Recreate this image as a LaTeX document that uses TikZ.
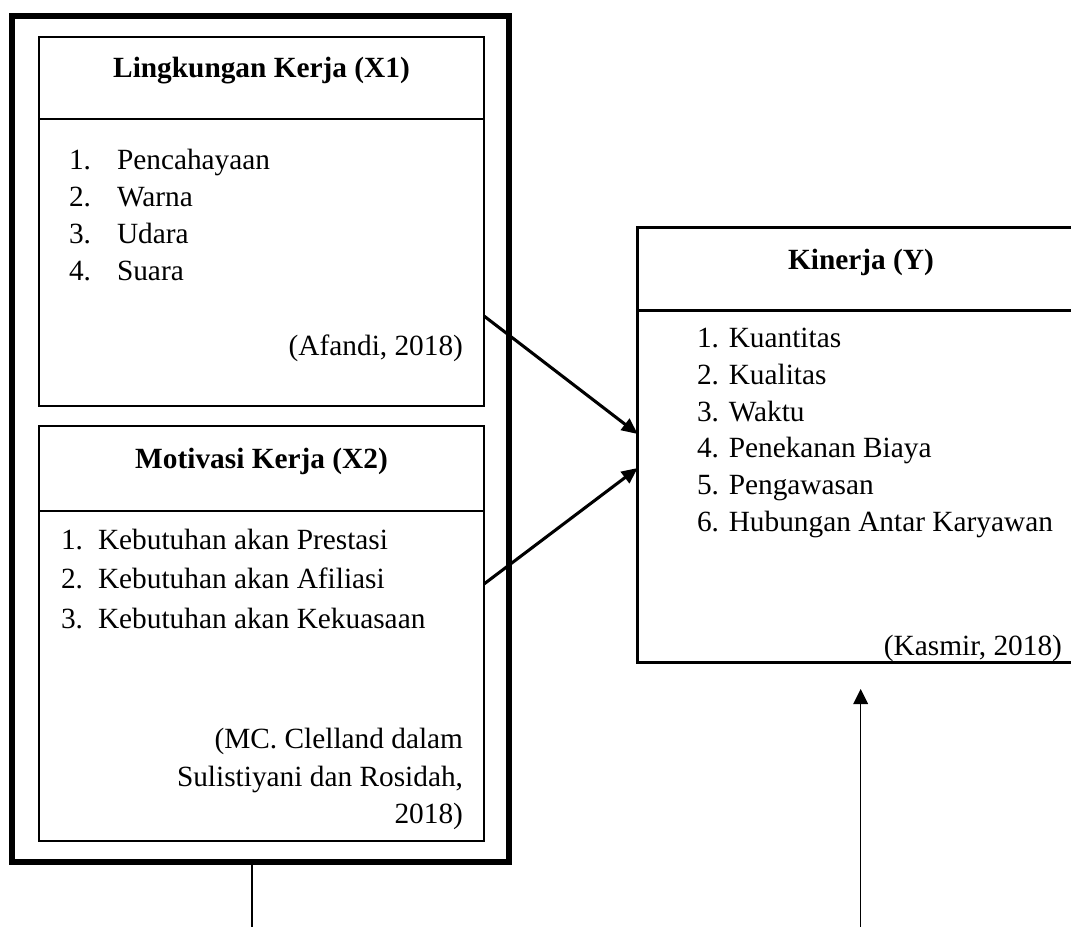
\documentclass[tikz,border=0pt]{standalone}
\usepackage{fontspec}
\setmainfont{Liberation Serif}
\usetikzlibrary{arrows.meta,calc}
\begin{document}
\begin{tikzpicture}[x=0.75pt,y=-0.75pt,
  box/.style={draw, line width=1.9pt, inner sep=0pt, outer sep=0pt, anchor=north west},
  txt/.style={inner sep=0pt, outer sep=0pt, font=\fontsize{22}{26}\selectfont},
  ttl/.style={inner sep=0pt, outer sep=0pt, font=\fontsize{22}{26}\selectfont\bfseries, anchor=base},
  arr/.style={line width=2.3pt, -{Triangle[length=12pt,width=10.5pt]}},
  thinarr/.style={line width=1pt, -{Triangle[length=11.25pt,width=11pt]}},
  thinline/.style={line width=1pt}]
\useasboundingbox (0,0) rectangle (1071,927);
% outer frame
\node[box, line width=4.3pt, minimum width=372.75pt, minimum height=634.5pt] (outer) at (12,16) {};
% X1
\node[box, minimum width=333.75pt, minimum height=61.5pt] (x1h) at (39,37) {};
\node[box, minimum width=333.75pt, minimum height=215.25pt] (x1b) at (x1h.south west) {};
% X2
\node[box, minimum width=333.75pt, minimum height=63.75pt] (x2h) at (39,426) {};
\node[box, minimum width=333.75pt, minimum height=247.5pt] (x2b) at (x2h.south west) {};
% Y
\node[box, minimum width=334.5pt, minimum height=62.25pt] (kh) at (637.7,227.5) {};
\node[box, minimum width=334.5pt, minimum height=264pt] (kb) at (kh.south west) {};
% titles
\node[ttl] (x1title) at (261.5,78) {Lingkungan Kerja (X1)};
\node[ttl] (x2title) at (261.5,468) {Motivasi Kerja (X2)};
\node[ttl] (ktitle) at (861,270) {Kinerja (Y)};
% X1 items
\foreach \t [count=\i] in {Pencahayaan, Warna, Udara, Suara} {
  \pgfmathsetmacro\yy{170+36.67*(\i-1)}
  \node[txt, anchor=base west] (x1n\i) at (69,\yy) {\i.};
  \node[txt, anchor=base west] (x1t\i) at (117,\yy) {\t};
}
\node[txt, anchor=base east] (x1src) at (463,355) {(Afandi, 2018)};
% X2 items
\foreach \t [count=\i] in {Kebutuhan akan Prestasi, Kebutuhan akan Afiliasi, Kebutuhan akan Kekuasaan} {
  \pgfmathsetmacro\yy{549+39.5*(\i-1)}
  \node[txt, anchor=base west] (x2n\i) at (61,\yy) {\i.};
  \node[txt, anchor=base west] (x2t\i) at (98,\yy) {\t};
}
\node[txt, anchor=base east] (x2src1) at (463,748.5) {(MC. Clelland dalam};
\node[txt, anchor=base east] (x2src2) at (463,786) {Sulistiyani dan Rosidah,};
\node[txt, anchor=base east] (x2src3) at (463,823) {2018)};
% Y items
\foreach \t [count=\i] in {Kuantitas, Kualitas, Waktu, Penekanan Biaya, Pengawasan, Hubungan Antar Karyawan} {
  \pgfmathsetmacro\yy{348+36.6*(\i-1)}
  \node[txt, anchor=base west] (kt\i) at (697,\yy) {\i. \t};
}
\node[txt, anchor=base east] (ksrc) at (1062,655) {(Kasmir, 2018)};
% connectors
\draw[arr] ($(x1b.north east)+(0,197)$) -- ($(kb.north west)+(0,123.5)$);
\draw[arr] ($(x2b.north east)+(0,73)$) -- ($(kb.north west)+(0,157.5)$);
\coordinate (bL) at (252,927);
\draw[thinline] (outer.south -| bL) -- (bL);
\coordinate (bR) at ($(kb.south)+(0,265)$);
\coordinate (tR) at ($(kb.south)+(0,26.5)$);
\draw[thinarr] (bR) -- (tR);
\end{tikzpicture}
\end{document}
